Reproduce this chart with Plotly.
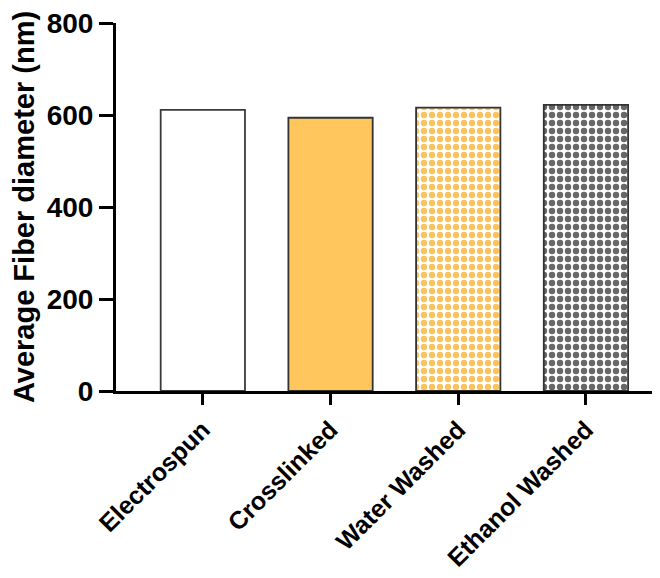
import plotly.graph_objects as go

categories = ["Electrospun", "Crosslinked", "Water Washed", "Ethanol Washed"]
diameters = [611, 594, 616, 622]
y_ticks = [0, 200, 400, 600, 800]

fill_colors = ["#FFFFFF", "#FEC65C", "#FBC35E", "#676767"]
pattern_shapes = ["", "", ".", "."]
pattern_fg = ["#000000", "#000000", "#8A95A8", "#C9C9C9"]
pattern_bg = ["#FFFFFF", "#FEC65C", "#FBC35E", "#676767"]
line_colors = ["#3A3A3A", "#333333", "#333333", "#333333"]

font_family = "Liberation Sans, Arial, sans-serif"

fig = go.Figure(
    go.Bar(
        x=categories,
        y=diameters,
        width=0.66,
        marker=dict(
            color=fill_colors,
            line=dict(color=line_colors, width=1.8),
            pattern=dict(
                shape=pattern_shapes,
                fgcolor=pattern_fg,
                bgcolor=pattern_bg,
                size=8,
                solidity=0.5,
                fillmode="replace",
            ),
        ),
    )
)

tick_font_x = dict(family=font_family, size=25, color="#000000", weight="bold")
tick_font_y = dict(family=font_family, size=28, color="#000000", weight="bold")
title_font = dict(family=font_family, size=29, color="#000000", weight="bold")

fig.update_layout(
    width=652,
    height=570,
    margin=dict(l=108, r=0, t=15, b=187),
    paper_bgcolor="white",
    plot_bgcolor="white",
    showlegend=False,
    font=dict(family=font_family, color="#000000"),
    xaxis=dict(
        range=[-0.68, 3.58],
        automargin=False,
        showline=True,
        linecolor="#000000",
        linewidth=3,
        ticks="outside",
        ticklen=11,
        tickwidth=3,
        tickcolor="#000000",
        tickangle=-45,
        tickfont=tick_font_x,
        showgrid=False,
        zeroline=False,
    ),
    yaxis=dict(
        range=[0, 800],
        automargin=False,
        tickvals=y_ticks,
        ticklabeloverflow="allow",
        showline=True,
        linecolor="#000000",
        linewidth=3,
        ticks="outside",
        ticklen=14,
        tickwidth=3,
        tickcolor="#000000",
        tickfont=tick_font_y,
        showgrid=False,
        zeroline=False,
        title=dict(text="Average Fiber diameter (nm)", font=title_font, standoff=12),
    ),
)

fig.write_html("out.html")
